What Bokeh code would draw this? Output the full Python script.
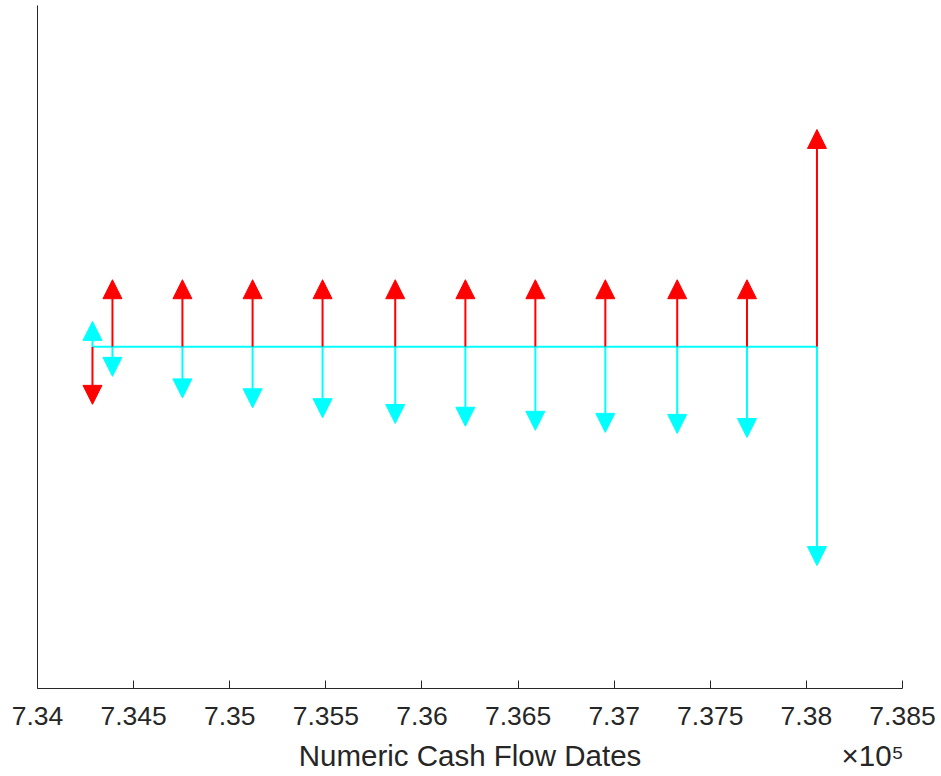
from bokeh.plotting import figure
from bokeh.models import (ColumnDataSource, Range1d, FixedTicker, Arrow, NormalHead, LinearAxis)
from bokeh.embed import file_html
from bokeh.resources import INLINE

# ---- data ----
cf_dates = [734286, 734390, 734754, 735119, 735483, 735861, 736226,
            736590, 736954, 737328, 737691, 738055]
red_amounts = [-16.9, 19.6, 19.6, 19.6, 19.6, 19.6, 19.6,
               19.6, 19.6, 19.6, 19.6, 63.6]
cyan_amounts = [7.4, -8.7, -15.0, -17.9, -20.8, -22.5, -23.3,
                -24.5, -25.1, -25.4, -26.6, -64.1]
tick_values = [734000, 734500, 735000, 735500, 736000, 736500,
               737000, 737500, 738000, 738500]
tick_labels = ["7.34", "7.345", "7.35", "7.355", "7.36", "7.365",
               "7.37", "7.375", "7.38", "7.385"]
x_label = "Numeric Cash Flow Dates"
exponent_label = "\u00d710\u2075"

FONT = "Liberation Sans"
TXT = "#262626"

x_lo, x_hi = tick_values[0], tick_values[-1]

p = figure(frame_width=865, frame_height=683,
           x_range=Range1d(x_lo, x_hi), y_range=Range1d(-100.1, 99.9),
           output_backend="svg", toolbar_location=None,
           min_border_left=37, min_border_right=39,
           min_border_top=5, min_border_bottom=88)
p.outline_line_color = None
p.grid.grid_line_color = None
p.background_fill_color = "white"
p.border_fill_color = "white"

# x axis: ticks and tick labels
xa = p.xaxis[0]
xa.ticker = FixedTicker(ticks=tick_values)
xa.major_label_overrides = {t: l for t, l in zip(tick_values, tick_labels)}
xa.major_tick_in = 8
xa.major_tick_out = 0
xa.minor_tick_line_color = None
xa.axis_line_color = TXT
xa.major_tick_line_color = TXT
xa.major_label_text_font = FONT
xa.major_label_text_font_size = "26.5px"
xa.major_label_text_color = TXT
xa.major_label_standoff = 18

# second row below: axis title (centred) and the x10^5 exponent on one line
label_x = (x_lo + x_hi) / 2
exp_x = 738345
xa2 = LinearAxis(ticker=FixedTicker(ticks=[label_x, exp_x]),
                 major_label_overrides={label_x: x_label, exp_x: exponent_label},
                 axis_line_color=None, major_tick_line_color=None,
                 minor_tick_line_color=None, major_tick_in=0, major_tick_out=0,
                 major_label_text_font=FONT, major_label_text_font_size="29.5px",
                 major_label_text_color=TXT, major_label_standoff=11)
p.add_layout(xa2, "below")

# y axis: line only
ya = p.yaxis[0]
ya.axis_line_color = TXT
ya.major_tick_line_color = None
ya.minor_tick_line_color = None
ya.major_label_text_font_size = "0px"
ya.major_label_text_color = None

n = len(cf_dates)
red_src = ColumnDataSource(dict(x0=cf_dates, y0=[0] * n, x1=cf_dates, y1=red_amounts))
cyan_src = ColumnDataSource(dict(x0=cf_dates, y0=[0] * n, x1=cf_dates, y1=cyan_amounts))

p.add_layout(Arrow(x_start="x0", y_start="y0", x_end="x1", y_end="y1", source=red_src,
                   line_color="#ff0000", line_width=2,
                   end=NormalHead(size=19, fill_color="#ff0000", line_color="#ff0000", line_width=1)))

base = p.line(x=[cf_dates[0], cf_dates[-1]], y=[0, 0], line_color="#00ffff", line_width=2)
base.level = "annotation"

p.add_layout(Arrow(x_start="x0", y_start="y0", x_end="x1", y_end="y1", source=cyan_src,
                   line_color="#00ffff", line_width=2,
                   end=NormalHead(size=19, fill_color="#00ffff", line_color="#00ffff", line_width=1)))

open("out.html", "w").write(file_html(p, INLINE))
